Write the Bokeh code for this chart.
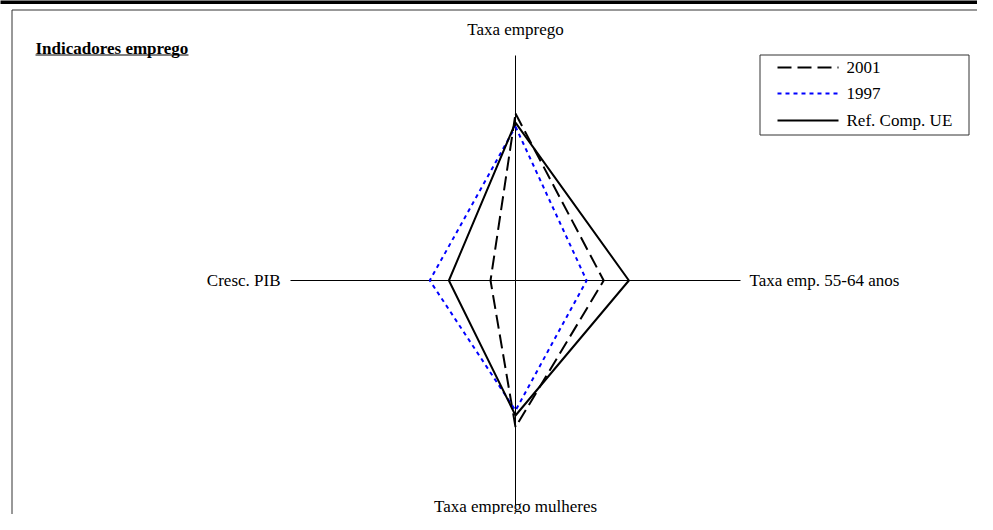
import numpy as np
from bokeh.plotting import figure
from bokeh.models import Range1d
from bokeh.core.properties import value
from bokeh.embed import file_html
from bokeh.resources import INLINE

# ---- data ----
axes_labels = ["Taxa emprego", "Taxa emp. 55-64 anos", "Taxa emprego mulheres", "Cresc. PIB"]
angles_deg = [90, 0, 270, 180]
r_max = 100
series_names = ["2001", "1997", "Ref. Comp. UE"]
v2001 = [74.2, 39.2, 65.2, 11.1]
v1997 = [68.4, 31.6, 57.8, 38.1]
vref = [70.2, 50.4, 60.0, 29.6]
title = "Indicadores emprego"

# ---- layout helpers (picture pixels -> data units) ----
S = 2.25            # pixels per data unit (axis length 100 -> 225 px)
W, H = 977, 514
CX, CY = 515, 280   # picture position of radar centre

def X(px):
    return (px - CX) / S

def Y(py):
    return (CY - py) / S

p = figure(width=W, height=H, x_range=Range1d(X(0), X(W)),
           y_range=Range1d(Y(H), Y(0)), output_backend="svg",
           toolbar_location=None, min_border=0)
p.axis.visible = False
p.grid.visible = False
p.outline_line_color = None
p.background_fill_color = "white"
p.border_fill_color = "white"

FONT = value("Liberation Serif")
FS = "17px"

# top black bar
p.quad(left=[X(-5)], right=[X(1000)], top=[Y(-5)], bottom=[Y(3.5)],
       fill_color="black", line_color=None)
# outer frame (left and top edges visible)
p.segment(x0=[X(11.5), X(11.5)], y0=[Y(9.5), Y(9.5)], x1=[X(1000), X(11.5)],
          y1=[Y(9.5), Y(600)], line_color="#333333", line_width=1)

ang = np.deg2rad(angles_deg)
# radar axes
p.segment(x0=[0] * 4, y0=[0] * 4, x1=list(r_max * np.cos(ang)), y1=list(r_max * np.sin(ang)),
          line_color="black", line_width=1)

def poly(vals):
    v = np.array(vals + vals[:1], dtype=float)
    a = np.concatenate([ang, ang[:1]])
    return list(v * np.cos(a)), list(v * np.sin(a))

styles = {
    "2001": dict(line_color="black", line_width=2, line_dash="14 6"),
    "1997": dict(line_color="#0000ff", line_width=2, line_dash="4 4"),
    "Ref. Comp. UE": dict(line_color="black", line_width=2),
}
for name, vals in zip(series_names, [v2001, v1997, vref]):
    xs, ys = poly(vals)
    p.line(xs, ys, **styles[name])

# axis labels
txt = dict(text_font=FONT, text_font_size=FS, text_color="black", text_baseline="middle")
p.text(x=[0], y=[Y(29)], text=[axes_labels[0]], text_align="center", **txt)
p.text(x=[X(749)], y=[0], text=[axes_labels[1]], text_align="left", **txt)
p.text(x=[0], y=[Y(505.5)], text=[axes_labels[2]], text_align="center", **txt)
p.text(x=[X(280)], y=[0], text=[axes_labels[3]], text_align="right", **txt)

# title (bold, underlined)
p.text(x=[X(35)], y=[Y(47.5)], text=[title], text_align="left", text_font_style="bold", **txt)
p.segment(x0=[X(35)], y0=[Y(54.5)], x1=[X(188)], y1=[Y(54.5)], line_color="black", line_width=1)

# legend box
p.quad(left=[X(759.5)], right=[X(968.5)], top=[Y(54.5)], bottom=[Y(134.5)],
       fill_color="white", line_color="#333333", line_width=1)
leg_y = [Y(67), Y(93), Y(120)]
for name, ly in zip(series_names, leg_y):
    p.line([X(777), X(838)], [ly, ly], **styles[name])
p.text(x=[X(846)] * 3, y=leg_y, text=series_names, text_align="left", **txt)

open("out.html", "w").write(file_html(p, INLINE))
